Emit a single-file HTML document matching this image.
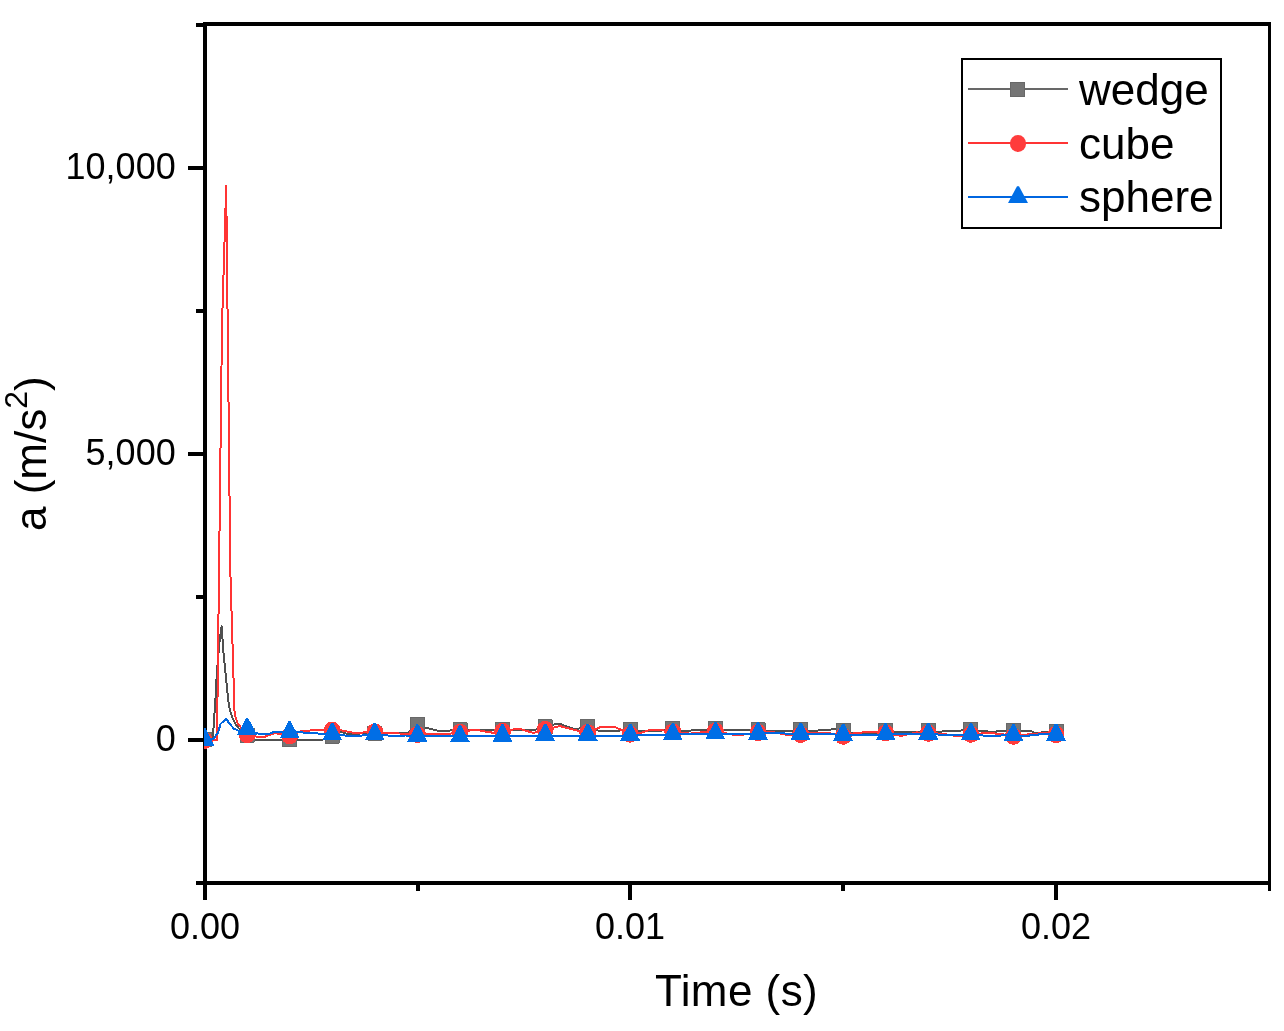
<!DOCTYPE html>
<html lang="en">
<head>
<meta charset="utf-8">
<title>Acceleration vs time</title>
<style>
html,body{margin:0;padding:0;background:#fff;}
body{width:1284px;height:1031px;overflow:hidden;}
svg{display:block;}
text{font-family:"Liberation Sans",Arial,sans-serif;fill:#000;}
.tick{font-size:36px;}
.big{font-size:44px;}
</style>
</head>
<body>
<svg width="1284" height="1031" viewBox="0 0 1284 1031">
<rect x="0" y="0" width="1284" height="1031" fill="#fff"/>
<defs>
<clipPath id="plotclip"><rect x="204" y="24" width="1066" height="860"/></clipPath>
</defs>

<!-- axes frame -->
<g fill="#000" shape-rendering="crispEdges">
<rect x="203" y="22" width="4" height="863"/>
<rect x="204" y="22" width="1067" height="4"/>
<rect x="203" y="881" width="1068" height="4"/>
<rect x="1268" y="22" width="3" height="863"/>
<!-- y major ticks -->
<rect x="188" y="166" width="16" height="4"/>
<rect x="188" y="452" width="16" height="4"/>
<rect x="188" y="738" width="16" height="4"/>
<!-- y minor ticks -->
<rect x="196" y="23" width="8" height="4"/>
<rect x="196" y="309" width="8" height="4"/>
<rect x="196" y="595" width="8" height="4"/>
<rect x="196" y="881" width="8" height="4"/>
<!-- x major ticks -->
<rect x="203" y="884" width="4" height="16"/>
<rect x="628" y="884" width="4" height="16"/>
<rect x="1054" y="884" width="4" height="16"/>
<!-- x minor ticks -->
<rect x="416" y="884" width="4" height="7"/>
<rect x="841" y="884" width="4" height="7"/>
<rect x="1268" y="884" width="3" height="7"/>
</g>

<!-- tick labels -->
<g class="tick" text-anchor="end">
<text x="175.7" y="178.8">10,000</text>
<text x="175.7" y="464.9">5,000</text>
<text x="175.7" y="750.9">0</text>
</g>
<g class="tick" text-anchor="middle">
<text x="205" y="938.8">0.00</text>
<text x="630" y="938.8">0.01</text>
<text x="1056" y="938.8">0.02</text>
</g>

<!-- axis titles -->
<text class="big" text-anchor="middle" x="736.6" y="1005.8" letter-spacing="0.45">Time (s)</text>
<text class="big" text-anchor="middle" transform="translate(46.3,453.7) rotate(-90)">a (m/s<tspan font-size="32" dy="-19.3">2</tspan><tspan dy="19.3">)</tspan></text>

<!-- data -->
<g clip-path="url(#plotclip)" shape-rendering="crispEdges" stroke-linejoin="round">
<polyline fill="none" stroke="#505050" stroke-width="2" points="205.0,739.7 212.4,739.7 212.9,736.0 213.5,728.0 214.5,713.0 215.5,698.0 217.0,670.5 219.7,640.0 221.6,626.3 223.4,652.0 225.3,670.5 227.1,689.0 228.9,705.5 230.8,713.0 232.6,718.4 235.4,724.0 238.1,727.6 243.0,732.0 247.1,735.1 251.5,740.0 289.6,740.0 300.0,740.0 322.0,740.0 332.2,736.1 340.8,731.7 348.3,734.2 360.0,733.5 374.8,733.0 403.6,732.5 408.6,732.5 417.4,724.7 424.8,727.4 437.0,730.5 450.0,730.5 460.0,729.6 470.0,730.3 493.0,730.1 502.5,729.6 512.5,729.9 535.0,729.9 545.1,726.8 554.8,724.3 561.0,724.3 574.8,729.3 587.7,726.8 598.0,730.5 619.6,730.5 630.2,729.6 640.0,731.1 660.0,730.9 672.8,728.7 683.0,730.9 703.5,729.9 715.4,728.7 726.0,730.1 748.0,730.1 758.0,729.6 768.0,730.9 790.0,730.9 800.6,729.6 811.0,730.9 829.8,729.9 834.8,728.6 843.1,730.5 853.0,733.0 875.0,733.0 885.7,730.5 895.9,731.7 918.0,731.7 928.3,730.5 938.0,731.7 961.0,730.5 970.9,729.6 981.0,730.9 994.8,732.1 999.8,730.5 1013.4,730.5 1023.0,730.5 1032.0,731.4 1034.6,733.0 1056.0,731.4"/>
<g fill="#757575" stroke="#686868" stroke-width="1">
<rect x="197.5" y="732.5" width="14" height="14"/>
<rect x="240.1" y="728.1" width="14" height="14"/>
<rect x="282.6" y="732.2" width="14" height="14"/>
<rect x="325.2" y="729.1" width="14" height="14"/>
<rect x="367.8" y="726.0" width="14" height="14"/>
<rect x="410.4" y="717.7" width="14" height="14"/>
<rect x="453.0" y="722.6" width="14" height="14"/>
<rect x="495.5" y="722.6" width="14" height="14"/>
<rect x="538.1" y="719.8" width="14" height="14"/>
<rect x="580.7" y="719.8" width="14" height="14"/>
<rect x="623.2" y="722.6" width="14" height="14"/>
<rect x="665.8" y="721.7" width="14" height="14"/>
<rect x="708.4" y="721.7" width="14" height="14"/>
<rect x="751.0" y="722.6" width="14" height="14"/>
<rect x="793.6" y="722.6" width="14" height="14"/>
<rect x="836.1" y="723.5" width="14" height="14"/>
<rect x="878.7" y="723.5" width="14" height="14"/>
<rect x="921.3" y="723.5" width="14" height="14"/>
<rect x="963.9" y="722.6" width="14" height="14"/>
<rect x="1006.4" y="723.5" width="14" height="14"/>
<rect x="1049.0" y="724.4" width="14" height="14"/>
</g>
<polyline fill="none" stroke="#FF3434" stroke-width="2" points="205.0,740.3 217.0,740.2 222.0,325.0 226.2,186.0 230.3,570.0 234.6,714.0 237.2,722.6 240.7,727.3 247.1,734.6 257.0,736.7 265.0,736.7 274.8,733.0 289.6,735.8 301.0,731.1 319.6,729.9 332.2,730.1 342.0,730.5 354.5,733.0 365.0,732.4 374.8,732.0 385.0,733.0 408.0,733.8 417.4,734.5 428.0,733.6 450.0,733.6 460.0,732.5 470.0,730.4 479.0,730.4 488.0,732.0 495.0,733.0 502.5,731.3 518.7,728.6 533.6,733.0 545.1,729.5 559.8,726.1 577.0,730.5 587.7,732.5 599.7,727.4 615.9,727.4 630.2,734.2 640.8,733.0 649.5,730.0 662.0,730.1 672.8,732.0 689.8,733.6 715.4,731.0 722.0,732.4 737.0,735.5 758.0,732.5 774.6,732.4 787.0,734.9 800.6,734.5 810.0,732.6 829.8,733.2 843.1,736.3 854.8,733.0 874.7,731.7 885.7,733.0 900.9,735.9 917.0,732.4 928.3,733.3 942.4,733.6 957.4,736.4 970.9,734.3 987.3,733.0 1001.0,733.9 1013.4,736.3 1029.7,734.2 1044.6,733.0 1056.0,734.5"/>
<g fill="#FF3C3C">
<ellipse cx="204.5" cy="740.5" rx="8.5" ry="8.5"/>
<ellipse cx="247.1" cy="734.6" rx="8.5" ry="8.5"/>
<ellipse cx="289.6" cy="735.8" rx="8.5" ry="8.5"/>
<ellipse cx="332.2" cy="730.1" rx="8.5" ry="8.5"/>
<ellipse cx="374.8" cy="732.0" rx="8.5" ry="8.5"/>
<ellipse cx="417.4" cy="734.5" rx="8.5" ry="8.5"/>
<ellipse cx="460.0" cy="732.5" rx="8.5" ry="8.5"/>
<ellipse cx="502.5" cy="731.3" rx="8.5" ry="8.5"/>
<ellipse cx="545.1" cy="729.5" rx="8.5" ry="8.5"/>
<ellipse cx="587.7" cy="732.5" rx="8.5" ry="8.5"/>
<ellipse cx="630.2" cy="734.2" rx="8.5" ry="8.5"/>
<ellipse cx="672.8" cy="732.0" rx="8.5" ry="8.5"/>
<ellipse cx="715.4" cy="731.0" rx="8.5" ry="8.5"/>
<ellipse cx="758.0" cy="732.5" rx="8.5" ry="8.5"/>
<ellipse cx="800.6" cy="734.5" rx="8.5" ry="8.5"/>
<ellipse cx="843.1" cy="736.3" rx="8.5" ry="8.5"/>
<ellipse cx="885.7" cy="733.0" rx="8.5" ry="8.5"/>
<ellipse cx="928.3" cy="733.3" rx="8.5" ry="8.5"/>
<ellipse cx="970.9" cy="734.3" rx="8.5" ry="8.5"/>
<ellipse cx="1013.4" cy="736.3" rx="8.5" ry="8.5"/>
<ellipse cx="1056.0" cy="734.5" rx="8.5" ry="8.5"/>
</g>
<polyline fill="none" stroke="#0066E0" stroke-width="2" points="205.0,740.3 213.4,738.8 217.8,733.0 220.7,723.7 226.1,718.9 230.0,724.2 233.8,728.6 239.0,731.0 247.1,729.3 256.5,733.0 260.0,734.2 268.5,734.2 271.0,733.0 274.0,731.9 282.0,731.9 289.6,732.5 301.0,732.4 319.6,733.6 332.2,734.4 344.5,735.5 362.0,735.5 374.8,734.3 388.0,735.5 405.0,735.5 417.4,735.8 430.0,736.0 448.0,736.0 460.0,736.6 472.0,736.0 490.0,736.0 502.5,735.8 515.0,736.1 533.0,736.1 545.1,735.2 557.0,736.1 575.0,736.1 587.7,735.0 600.0,736.1 618.0,736.1 630.2,735.0 642.0,734.9 660.0,734.6 672.8,734.5 685.0,734.2 703.0,734.2 715.4,733.6 728.0,733.9 746.0,733.9 758.0,733.8 770.0,733.0 788.0,733.6 800.6,734.0 812.0,734.2 830.0,734.2 843.1,735.0 855.0,734.6 873.0,734.6 885.7,734.6 897.0,733.6 916.0,733.6 928.3,734.0 940.0,734.6 958.0,734.6 970.9,734.5 983.0,735.5 1001.0,735.5 1013.4,735.4 1026.0,735.9 1044.0,733.9 1056.0,735.0"/>
<g fill="#006EE6">
<polygon points="203.5,728.3 205.5,728.3 214.5,745.6 194.5,745.6"/>
<polygon points="246.1,717.8 248.1,717.8 257.1,735.1 237.1,735.1"/>
<polygon points="288.6,721.0 290.6,721.0 299.6,738.3 279.6,738.3"/>
<polygon points="331.2,722.9 333.2,722.9 342.2,740.2 322.2,740.2"/>
<polygon points="373.8,722.8 375.8,722.8 384.8,740.1 364.8,740.1"/>
<polygon points="416.4,724.3 418.4,724.3 427.4,741.6 407.4,741.6"/>
<polygon points="459.0,725.1 461.0,725.1 470.0,742.4 450.0,742.4"/>
<polygon points="501.5,724.3 503.5,724.3 512.5,741.6 492.5,741.6"/>
<polygon points="544.1,723.7 546.1,723.7 555.1,741.0 535.1,741.0"/>
<polygon points="586.7,723.5 588.7,723.5 597.7,740.8 577.7,740.8"/>
<polygon points="629.2,723.5 631.2,723.5 640.2,740.8 620.2,740.8"/>
<polygon points="671.8,723.0 673.8,723.0 682.8,740.3 662.8,740.3"/>
<polygon points="714.4,722.1 716.4,722.1 725.4,739.4 705.4,739.4"/>
<polygon points="757.0,722.3 759.0,722.3 768.0,739.6 748.0,739.6"/>
<polygon points="799.6,722.5 801.6,722.5 810.6,739.8 790.6,739.8"/>
<polygon points="842.1,723.5 844.1,723.5 853.1,740.8 833.1,740.8"/>
<polygon points="884.7,723.1 886.7,723.1 895.7,740.4 875.7,740.4"/>
<polygon points="927.3,722.5 929.3,722.5 938.3,739.8 918.3,739.8"/>
<polygon points="969.9,723.0 971.9,723.0 980.9,740.3 960.9,740.3"/>
<polygon points="1012.4,723.9 1014.4,723.9 1023.4,741.2 1003.4,741.2"/>
<polygon points="1055.0,723.5 1057.0,723.5 1066.0,740.8 1046.0,740.8"/>
</g>
</g>

<!-- legend -->
<g shape-rendering="crispEdges">
<rect x="962" y="59" width="259" height="169" fill="#fff" stroke="#000" stroke-width="2"/>
<rect x="968" y="88" width="100" height="2" fill="#686868"/>
<rect x="1010.5" y="82.5" width="14" height="14" fill="#757575" stroke="#686868" stroke-width="1"/>
<rect x="968" y="142" width="100" height="2" fill="#FF3434"/>
<rect x="968" y="196" width="100" height="2" fill="#0066E0"/>
</g>
<ellipse cx="1018" cy="143.5" rx="8.1" ry="8.5" fill="#FF3C3C"/>
<polygon points="1017,186.2 1019,186.2 1028,203 1008,203" fill="#006EE6"/>
<g class="big">
<text x="1079" y="104.5">wedge</text>
<text x="1079" y="158.5">cube</text>
<text x="1079" y="212">sphere</text>
</g>
</svg>
</body>
</html>
